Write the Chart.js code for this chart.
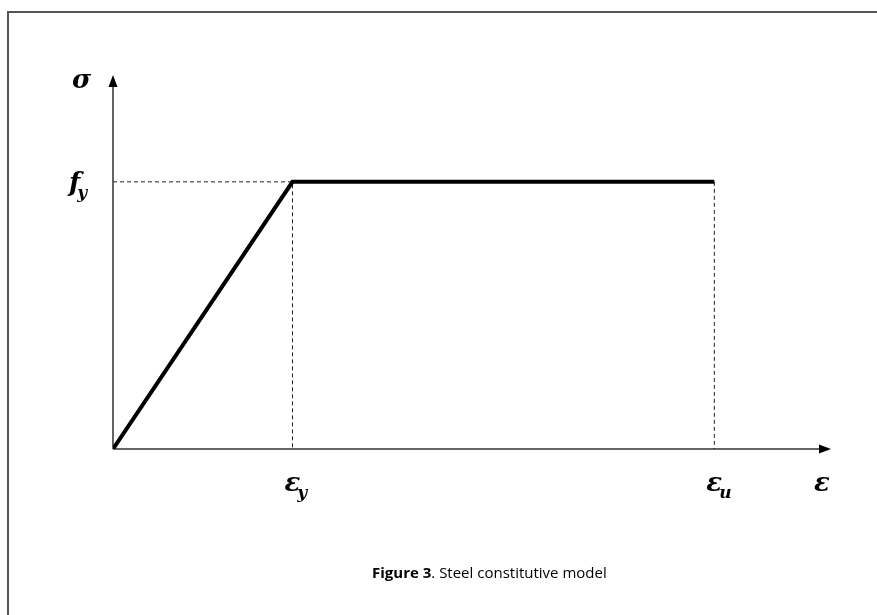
<!DOCTYPE html>
<html>
<head>
<meta charset="utf-8">
<script src="https://cdn.jsdelivr.net/npm/chart.js@4/dist/chart.umd.min.js"></script>
<style>
  html, body { margin: 0; padding: 0; background: #fff; }
  #frame { position: absolute; left: 7px; top: 11px; width: 870px; height: 604px;
           border-left: 2px solid #555; border-top: 2px solid #555; }
  canvas { position: absolute; left: 0; top: 0; }
</style>
</head>
<body>
<div id="frame"></div>
<canvas id="myChart" width="877" height="615"></canvas>
<script>
// steel model: strain (in units of eps_y) and stress (in units of f_y)
var strain = [0, 1, 3.35];
var stress = [0, 1, 1];
var strainMarks = [1, 3.35];
var strainLabels = [['\u03B5', 'y'], ['\u03B5', 'u']];
var stressMarks = [1];
var stressLabels = [['f', 'y']];
var axisNames = ['\u03B5', '\u03C3'];
var xMax = 4;
var yMax = 1.4;

var model = strain.map(function (s, i) { return { x: s, y: stress[i] }; });
var guideA = [{ x: 0, y: stressMarks[0] }, { x: strainMarks[0], y: stressMarks[0] }, { x: strainMarks[0], y: 0 }];
var guideB = [{ x: strainMarks[1], y: stressMarks[0] }, { x: strainMarks[1], y: 0 }];

var mathFont = 'italic bold 26px "DejaVu Serif", "Liberation Serif", serif';
var subFont = 'italic bold 17px "DejaVu Serif", "Liberation Serif", serif';

function mathLabel(ctx, parts, x, y) {
  ctx.font = mathFont;
  ctx.fillText(parts[0], x, y);
  if (parts[1]) {
    var w = ctx.measureText(parts[0]).width;
    ctx.font = subFont;
    ctx.fillText(parts[1], x + w - 3, y + 7);
  }
}

var axesPlugin = {
  id: 'axesPlugin',
  beforeDatasetsDraw: function (chart) {
    var ctx = chart.ctx, xs = chart.scales.x, ys = chart.scales.y;
    var x0 = xs.getPixelForValue(0), y0 = ys.getPixelForValue(0);
    var xEnd = xs.getPixelForValue(xMax), yEnd = ys.getPixelForValue(yMax);
    ctx.save();
    ctx.strokeStyle = '#333';
    ctx.fillStyle = '#000';
    ctx.lineWidth = 1.5;
    ctx.beginPath();
    ctx.moveTo(x0, y0); ctx.lineTo(xEnd - 8, y0);
    ctx.moveTo(x0, y0); ctx.lineTo(x0, yEnd + 8);
    ctx.stroke();
    // arrow heads
    ctx.beginPath();
    ctx.moveTo(xEnd, y0); ctx.lineTo(xEnd - 12, y0 - 4.5); ctx.lineTo(xEnd - 12, y0 + 4.5); ctx.closePath();
    ctx.fill();
    ctx.beginPath();
    ctx.moveTo(x0, yEnd); ctx.lineTo(x0 - 4.5, yEnd + 12); ctx.lineTo(x0 + 4.5, yEnd + 12); ctx.closePath();
    ctx.fill();
    ctx.restore();
  },
  afterDraw: function (chart) {
    var ctx = chart.ctx, xs = chart.scales.x, ys = chart.scales.y;
    var x0 = xs.getPixelForValue(0), y0 = ys.getPixelForValue(0);
    ctx.save();
    ctx.fillStyle = '#000';
    ctx.textBaseline = 'alphabetic';
    ctx.textAlign = 'left';
    // tick labels on the strain axis
    strainMarks.forEach(function (v, i) {
      mathLabel(ctx, strainLabels[i], xs.getPixelForValue(v) - 8, y0 + 42);
    });
    // tick labels on the stress axis
    stressMarks.forEach(function (v, i) {
      mathLabel(ctx, stressLabels[i], x0 - 44, ys.getPixelForValue(v) + 9);
    });
    // axis names
    mathLabel(ctx, [axisNames[0]], xs.getPixelForValue(xMax) - 17, y0 + 42);
    mathLabel(ctx, [axisNames[1]], x0 - 41, ys.getPixelForValue(yMax) + 13);
    // caption
    var cap1 = 'Figure 3', cap2 = '. Steel constitutive model';
    var cx = 372;
    ctx.font = 'bold 15px "Open Sans", "Noto Sans", sans-serif';
    var w1 = ctx.measureText(cap1).width;
    ctx.fillText(cap1, cx, 578);
    ctx.font = '15px "Open Sans", "Noto Sans", sans-serif';
    ctx.fillText(cap2, cx + w1, 578);
    ctx.restore();
  }
};

var ctx = document.getElementById('myChart').getContext('2d');
var myChart = new Chart(ctx, {
  type: 'scatter',
  data: {
    datasets: [{
      label: 'Steel',
      data: model,
      showLine: true,
      borderColor: '#000',
      borderWidth: 4,
      pointRadius: 0,
      order: 0
    }, {
      label: 'guide fy / eps_y',
      data: guideA,
      showLine: true,
      borderColor: '#222',
      borderWidth: 1,
      borderDash: [4, 3],
      pointRadius: 0,
      order: 1
    }, {
      label: 'guide eps_u',
      data: guideB,
      showLine: true,
      borderColor: '#222',
      borderWidth: 1,
      borderDash: [4, 3],
      pointRadius: 0,
      order: 1
    }]
  },
  options: {
    responsive: false,
    animation: false,
    devicePixelRatio: 1,
    layout: { padding: { left: 113, right: 46, top: 75, bottom: 166 } },
    scales: {
      x: { type: 'linear', min: 0, max: xMax, display: false },
      y: { type: 'linear', min: 0, max: yMax, display: false }
    },
    plugins: {
      legend: { display: false },
      tooltip: { enabled: false }
    }
  },
  plugins: [axesPlugin]
});
</script>
</body>
</html>
